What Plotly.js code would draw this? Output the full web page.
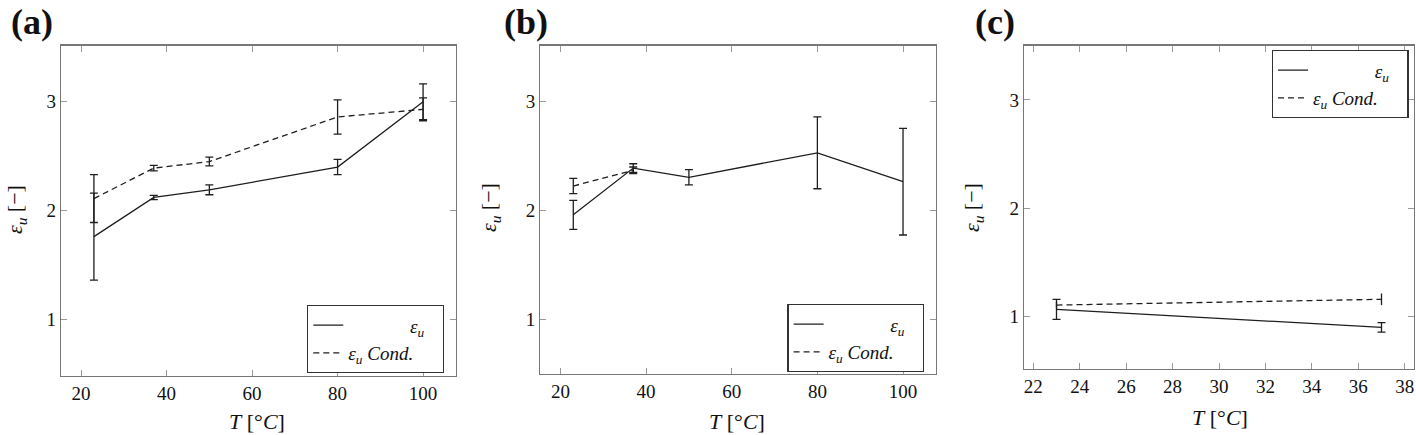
<!DOCTYPE html>
<html>
<head>
<meta charset="utf-8">
<script src="https://cdn.plot.ly/plotly-3.0.1.min.js"></script>
<style>html,body{margin:0;padding:0;background:#fff;}#chart{width:1416px;height:435px;}</style>
</head>
<body>
<div id="chart"></div>
<script>
// Panel (a)
const aT = [23, 37, 50, 80, 100];
const aEu = [1.76, 2.12, 2.19, 2.40, 3.00];
const aEuErr = [0.40, 0.02, 0.045, 0.07, 0.165];
const aCond = [2.11, 2.39, 2.45, 2.86, 2.93];
const aCondErr = [0.22, 0.025, 0.04, 0.157, 0.105];
// Panel (b)
const bT = [23, 37, 50, 80, 100];
const bEu = [1.96, 2.39, 2.305, 2.53, 2.265];
const bEuErr = [0.133, 0.04, 0.07, 0.33, 0.49];
const bCondT = [23, 37];
const bCond = [2.225, 2.37];
const bCondErr = [0.07, 0.03];
// Panel (c)
const cT = [23, 37];
const cEu = [1.067, 0.901];
const cEuErr = [0.093, 0.043];
const cCond = [1.107, 1.16];
const cCondErr = [0.03, 0.054];

const xTicksAB = [20, 40, 60, 80, 100];
const xTicksC = [22, 24, 26, 28, 30, 32, 34, 36, 38];
const yTicks = [1, 2, 3];

const SERIF = '"Liberation Serif", "Times New Roman", Times, serif';
const nb = n => '\u00a0'.repeat(n);
const nameEu = nb(13) + '<i>ε<sub>u</sub></i>';
const nameCond = '<i>ε<sub>u</sub>\u00a0Cond.</i>' + nb(5);

const solid = {color: '#1e1e1e', width: 1.3, dash: 'solid'};
const dashed = {color: '#1e1e1e', width: 1.3, dash: '6px,4px'};
function err(arr, w) { return {type: 'data', array: arr, visible: true, color: '#1e1e1e', thickness: 1.3, width: w}; }

function tr(x, y, e, line, name, xa, ya, leg, capw) {
  return {x: x, y: y, error_y: err(e, capw), mode: 'lines', line: line, name: name,
          xaxis: xa, yaxis: ya, legend: leg, showlegend: true, type: 'scatter'};
}

const data = [
  tr(aT, aEu, aEuErr, solid, nameEu, 'x', 'y', 'legend', 4),
  tr(aT, aCond, aCondErr, dashed, nameCond, 'x', 'y', 'legend', 4),
  tr(bT, bEu, bEuErr, solid, nameEu, 'x2', 'y2', 'legend2', 4),
  tr(bCondT, bCond, bCondErr, dashed, nameCond, 'x2', 'y2', 'legend2', 4),
  tr(cT, cEu, cEuErr, solid, nameEu, 'x3', 'y3', 'legend3', 4),
  tr(cT, cCond, cCondErr, dashed, nameCond, 'x3', 'y3', 'legend3', 0)
];

function tf() { return {family: SERIF, size: 19, color: '#111'}; }
function xax(dom, range, vals, anchor) {
  return {domain: dom, range: range, tickvals: vals, ticktext: vals.map(String), anchor: anchor,
          showgrid: false, zeroline: false, showline: true, linecolor: '#777', linewidth: 1.3,
          mirror: 'ticks', ticks: 'inside', ticklen: 6, tickcolor: '#999', tickwidth: 1,
          tickfont: tf(), automargin: false};
}
function yax(dom, range, anchor) {
  return {domain: dom, range: range, tickvals: yTicks, ticktext: yTicks.map(String), anchor: anchor,
          showgrid: false, zeroline: false, showline: true, linecolor: '#777', linewidth: 1.3,
          mirror: 'ticks', ticks: 'inside', ticklen: 6, tickcolor: '#999', tickwidth: 1,
          tickfont: tf(), automargin: false};
}
function leg(x, y) {
  return {x: x, y: y, xanchor: 'left', yanchor: 'top', bgcolor: '#fff', bordercolor: '#333', borderwidth: 1.3,
          font: {family: SERIF, size: 19, color: '#111'}, tracegroupgap: 0, itemwidth: 30};
}

const H = 435, W = 1416;
function ann(text, x, y, size, opts) {
  return Object.assign({text: text, xref: 'paper', yref: 'paper', x: x / W, y: 1 - y / H,
          xanchor: 'center', yanchor: 'middle', showarrow: false,
          font: {family: SERIF, size: size, color: '#111'}}, opts || {});
}
const yTitle = '<i>ε<sub>u</sub></i> [−]';
const xTitle = '<i>T</i> [°<i>C</i>]';

const layout = {
  width: W, height: H,
  margin: {l: 0, r: 0, t: 0, b: 0},
  paper_bgcolor: '#fff', plot_bgcolor: '#fff',
  font: {family: SERIF},
  xaxis: xax([61 / W, 456 / W], [15.3, 107.7], xTicksAB, 'y'),
  yaxis: yax([1 - 375.7 / H, 1 - 45.7 / H], [0.482, 3.515], 'x'),
  xaxis2: xax([540.3 / W, 936 / W], [15.3, 107.7], xTicksAB, 'y2'),
  yaxis2: yax([1 - 374 / H, 1 - 45.7 / H], [0.497, 3.515], 'x2'),
  xaxis3: xax([1024 / W, 1414 / W], [21.6, 38.4], xTicksC, 'y3'),
  yaxis3: yax([1 - 369 / H, 1 - 45.7 / H], [0.517, 3.50], 'x3'),
  legend: leg(307 / W, 1 - 305 / H),
  legend2: leg(787.3 / W, 1 - 304 / H),
  legend3: leg(1271.7 / W, 1 - 50 / H),
  showlegend: true,
  annotations: [
    ann('<b>(a)</b>', 32, 22, 36),
    ann('<b>(b)</b>', 526, 22, 36),
    ann('<b>(c)</b>', 995, 22, 36),
    ann(yTitle, 16, 210, 22, {textangle: -90}),
    ann(yTitle, 490, 208, 22, {textangle: -90}),
    ann(yTitle, 973, 208, 22, {textangle: -90}),
    ann(xTitle, 257, 421, 22),
    ann(xTitle, 737, 421, 22),
    ann(xTitle, 1220, 417, 22)
  ]
};

Plotly.newPlot('chart', data, layout, {staticPlot: true, displayModeBar: false});
</script>
</body>
</html>
